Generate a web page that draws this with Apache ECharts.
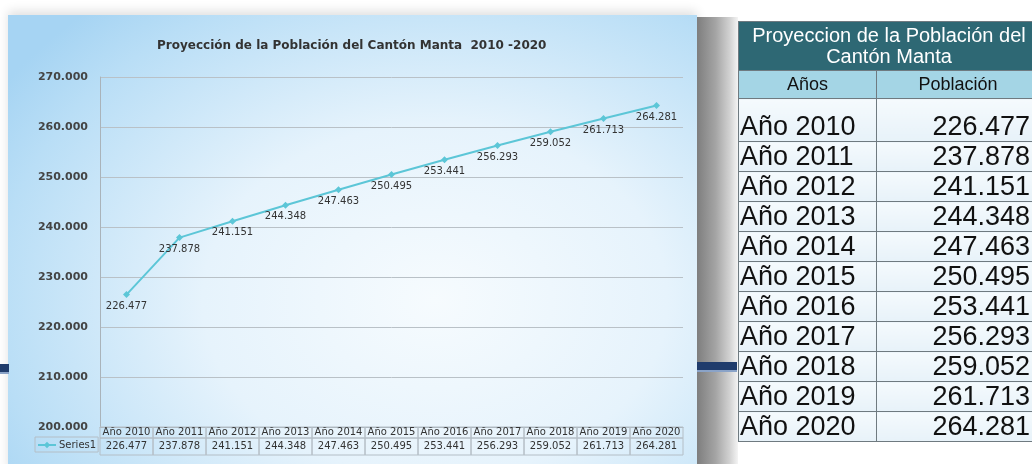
<!DOCTYPE html>
<html>
<head>
<meta charset="utf-8">
<script src="https://cdn.jsdelivr.net/npm/echarts@6/dist/echarts.min.js"></script>
<style>
  html, body { margin: 0; padding: 0; background: #fff; }
  body { width: 1032px; height: 464px; position: relative; overflow: hidden; }
  .panel {
    position: absolute; left: 8px; top: 15px; width: 689px; height: 460px;
    background: radial-gradient(ellipse 75% 85% at 62% 62%, #f6fbfe 0%, #e6f3fc 45%, #b9def6 85%, #a6d4f3 100%);
    box-shadow: 0 -4px 10px rgba(0,0,0,0.12);
  }
  .sombra {
    position: absolute; left: 697px; top: 17px; width: 41px; height: 460px;
    background: linear-gradient(to right, #7e7e7e 0%, #a4a4a4 45%, #d2d2d2 80%, #f4f4f4 100%);
  }
  .bar { position: absolute; height: 8px; background: #203c6c; border-bottom: 2px solid #8aa3c8; }
  #chart { position: absolute; left: 0; top: 0; width: 1032px; height: 464px; }
  #tabla {
    position: absolute; left: 738px; top: 21px; width: 302px;
    border-collapse: collapse; font-family: "Liberation Sans", Arial, sans-serif; color: #111;
  }
  #tabla td, #tabla th { border: 1px solid #6f7a80; padding: 0; }
  #tabla .tit { background: #2e6874; color: #fff; font-weight: normal; font-size: 20px; line-height: 21px; height: 48px; text-align: center; }
  #tabla .sub th { background: #a4d5e5; font-weight: normal; font-size: 18px; height: 27px; text-align: center; }
  #tabla .fila td { font-size: 27px; height: 29px; line-height: 29px; background: linear-gradient(#f5fafd, #e7f2f9); }
  #tabla .fila td:first-child { width: 136px; padding-left: 1px; }
  #tabla .fila td:last-child { text-align: right; padding-right: 9px; }
  #tabla .fila.primera td { height: 42px; vertical-align: bottom; line-height: 30px; }
</style>
</head>
<body>
<div class="panel"></div>
<div class="sombra"></div>
<div class="bar" style="left:0;top:364px;width:9px"></div>
<div class="bar" style="left:697px;top:362px;width:40px"></div>
<div id="chart"></div>
<table id="tabla"></table>
<script>
const titulo = 'Proyección de la Población del Cantón Manta  2010 -2020'
const serie = 'Series1'
const anios = ['Año 2010', 'Año 2011', 'Año 2012', 'Año 2013', 'Año 2014', 'Año 2015',
  'Año 2016', 'Año 2017', 'Año 2018', 'Año 2019', 'Año 2020']
const poblacion = [226477, 237878, 241151, 244348, 247463, 250495,
  253441, 256293, 259052, 261713, 264281]
const ejeY = { min: 200000, max: 270000, step: 10000 }
const tablaTitulo = ['Proyeccion  de la Población del', 'Cantón Manta']
const tablaCols = ['Años', 'Población']

// 226477 -> "226.477"
function miles(v) {
  return Math.floor(v / 1000) + '.' + String(v % 1000).padStart(3, '0')
}

const font = 'DejaVu Sans'
const linea = '#5cc6d7'
const borde = '#b4bec6'

const chart = echarts.init(document.getElementById('chart'))
chart.setOption({
  backgroundColor: 'transparent',
  animation: false,
  title: {
    text: titulo,
    left: 152,
    top: 35,
    textStyle: { fontFamily: font, fontSize: 12, fontWeight: 'bold', color: '#333' }
  },
  legend: {
    data: [serie],
    left: 35,
    top: 437,
    padding: [3, 2, 2, 2],
    itemWidth: 18,
    itemHeight: 8,
    itemGap: 4,
    borderColor: borde,
    borderWidth: 1,
    textStyle: { fontFamily: font, fontSize: 10, color: '#333', padding: [0, 0, 0, -2] }
  },
  grid: { left: 100, right: 349, top: 77, bottom: 37 },
  xAxis: {
    type: 'category',
    data: anios,
    boundaryGap: true,
    axisLine: { lineStyle: { color: '#a9b3ba' } },
    axisTick: { show: false },
    axisLabel: {
      margin: 0,
      interval: 0,
      formatter: (v, i) => '{h|' + v + '}\n{v|' + miles(poblacion[i]) + '}',
      rich: {
        h: { width: 53, height: 11, lineHeight: 11, align: 'center', fontFamily: font, fontSize: 10, color: '#333', borderColor: borde, borderWidth: 1 },
        v: { width: 53, height: 17, lineHeight: 17, align: 'center', fontFamily: font, fontSize: 10, color: '#333', borderColor: borde, borderWidth: 1 }
      }
    }
  },
  yAxis: {
    type: 'value',
    min: ejeY.min,
    max: ejeY.max,
    interval: ejeY.step,
    axisLine: { show: true, lineStyle: { color: '#a9b3ba' } },
    axisTick: { show: false },
    splitLine: { lineStyle: { color: '#b9c1c7' } },
    axisLabel: {
      margin: 12,
      fontFamily: font,
      fontSize: 11,
      fontWeight: 'bold',
      color: '#444',
      formatter: v => miles(v)
    }
  },
  series: [{
    name: serie,
    type: 'line',
    data: poblacion,
    symbol: 'diamond',
    symbolSize: 7,
    itemStyle: { color: linea },
    lineStyle: { color: linea, width: 2 },
    label: {
      show: true,
      position: 'bottom',
      distance: 3,
      fontFamily: font,
      fontSize: 10,
      color: '#333',
      formatter: p => miles(p.value)
    }
  }]
})

// tabla de la derecha, desde los mismos arreglos
const tabla = document.getElementById('tabla')
let html = '<tr><th class="tit" colspan="2">' + tablaTitulo.join('<br>') + '</th></tr>'
html += '<tr class="sub"><th>' + tablaCols[0] + '</th><th>' + tablaCols[1] + '</th></tr>'
anios.forEach((a, i) => {
  html += '<tr class="fila' + (i === 0 ? ' primera' : '') + '"><td>' + a + '</td><td>' + miles(poblacion[i]) + '</td></tr>'
})
tabla.innerHTML = html
</script>
</body>
</html>
